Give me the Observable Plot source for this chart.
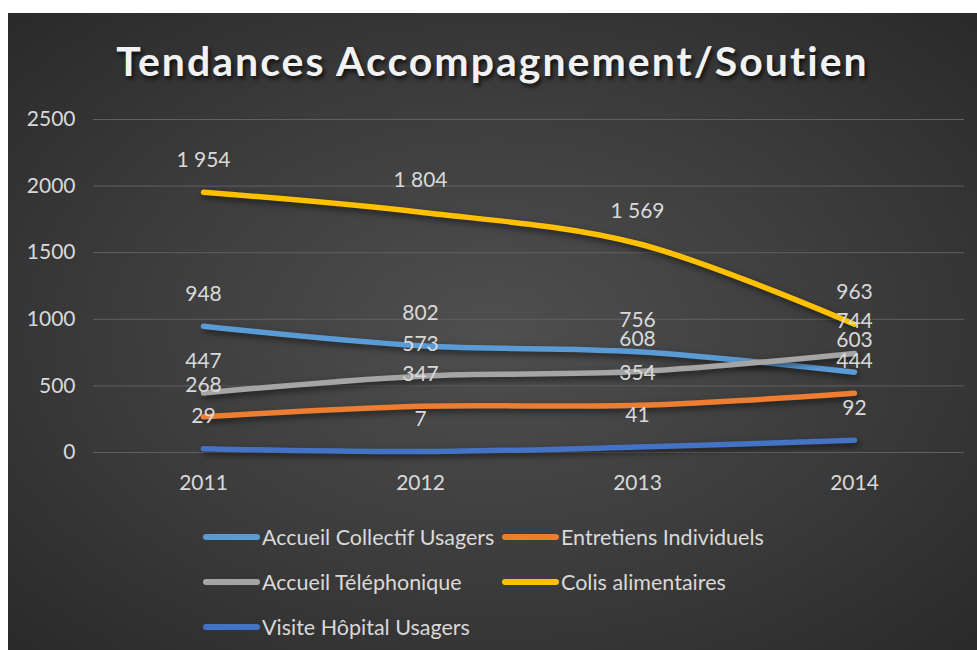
<!DOCTYPE html>
<html><head><meta charset="utf-8">
<script src="https://cdn.jsdelivr.net/npm/d3@7"></script>
<script src="https://cdn.jsdelivr.net/npm/@observablehq/plot@0.6"></script>
<style>
body{margin:0;background:#fff;width:977px;height:650px;overflow:hidden;position:relative;font-family:Lato,sans-serif;}
#bg{position:absolute;left:8px;top:13px;width:969px;height:637px;background:radial-gradient(ellipse 75% 75% at 50% 50%, #4f4f4f 0%, #3c3c3c 50%, #272727 100%);}
#title{position:absolute;left:8px;width:969px;top:36px;text-align:center;font-weight:700;font-size:41px;line-height:50px;color:#f2f2f2;letter-spacing:2px;text-shadow:2px 3px 4px rgba(0,0,0,.75);}
#chart{position:absolute;left:0;top:90px;}
#chart svg g[aria-label="line"] path{filter:drop-shadow(2px 3px 3px rgba(0,0,0,0.55));}
#legend{position:absolute;left:203px;top:514px;display:grid;grid-template-columns:299px auto;grid-auto-rows:45px;}
.item{display:flex;align-items:center;color:#d9d9d9;font-size:21.5px;}
.sw{display:inline-block;width:57px;height:6px;border-radius:3px;margin-right:2px;}
</style></head>
<body>
<div id="bg"></div>
<div id="title">Tendances Accompagnement/Soutien</div>
<div id="chart"></div>
<div id="legend"></div>
<script>
const years = ["2011", "2012", "2013", "2014"];
const seriesNames = ["Accueil Collectif Usagers", "Entretiens Individuels", "Accueil Téléphonique", "Colis alimentaires", "Visite Hôpital Usagers"];
const seriesColors = ["#5B9BD5", "#ED7D31", "#A5A5A5", "#FFC000", "#4472C4"];
const accueilCollectif = [948, 802, 756, 603];
const entretiens = [268, 347, 354, 444];
const telephonique = [447, 573, 608, 744];
const colis = [1954, 1804, 1569, 963];
const visite = [29, 7, 41, 92];
const yTicks = [0, 500, 1000, 1500, 2000, 2500];

const seriesValues = [accueilCollectif, entretiens, telephonique, colis, visite];
const data = [];
seriesNames.forEach((s, i) => years.forEach((y, j) => data.push({series: s, year: y, value: seriesValues[i][j]})));

const fmt = d3.formatLocale({decimal: ",", thousands: "\u00a0", grouping: [3], currency: ["", ""]}).format(",");

const chart = Plot.plot({
  width: 977, height: 420,
  marginLeft: 93, marginRight: 13, marginTop: 29, marginBottom: 58,
  style: {background: "transparent", color: "#d9d9d9", fontFamily: "Lato, sans-serif", fontSize: "21px", overflow: "visible"},
  x: {type: "point", domain: years, padding: 0.5, label: null, tickSize: 0, tickPadding: 23},
  y: {domain: [0, 2500], ticks: yTicks, tickFormat: d3.format("d"), label: null, tickSize: 0, tickPadding: 18},
  color: {domain: seriesNames, range: seriesColors},
  marks: [
    Plot.ruleY(yTicks, {stroke: "#606060", strokeWidth: 1}),
    Plot.line(data, {x: "year", y: "value", z: "series", stroke: "series", strokeWidth: 5.5, curve: "catmull-rom", strokeLinecap: "round", strokeLinejoin: "round"}),
    Plot.text(data, {x: "year", y: "value", text: d => fmt(d.value), dy: -32, fill: "#d9d9d9", fontSize: 21})
  ]
});
document.getElementById("chart").appendChild(chart);

const legend = document.getElementById("legend");
seriesNames.forEach((s, i) => {
  const it = document.createElement("div");
  it.className = "item";
  const sw = document.createElement("span");
  sw.className = "sw";
  sw.style.background = seriesColors[i];
  it.appendChild(sw);
  it.appendChild(document.createTextNode(s));
  legend.appendChild(it);
});
</script>
</body></html>
